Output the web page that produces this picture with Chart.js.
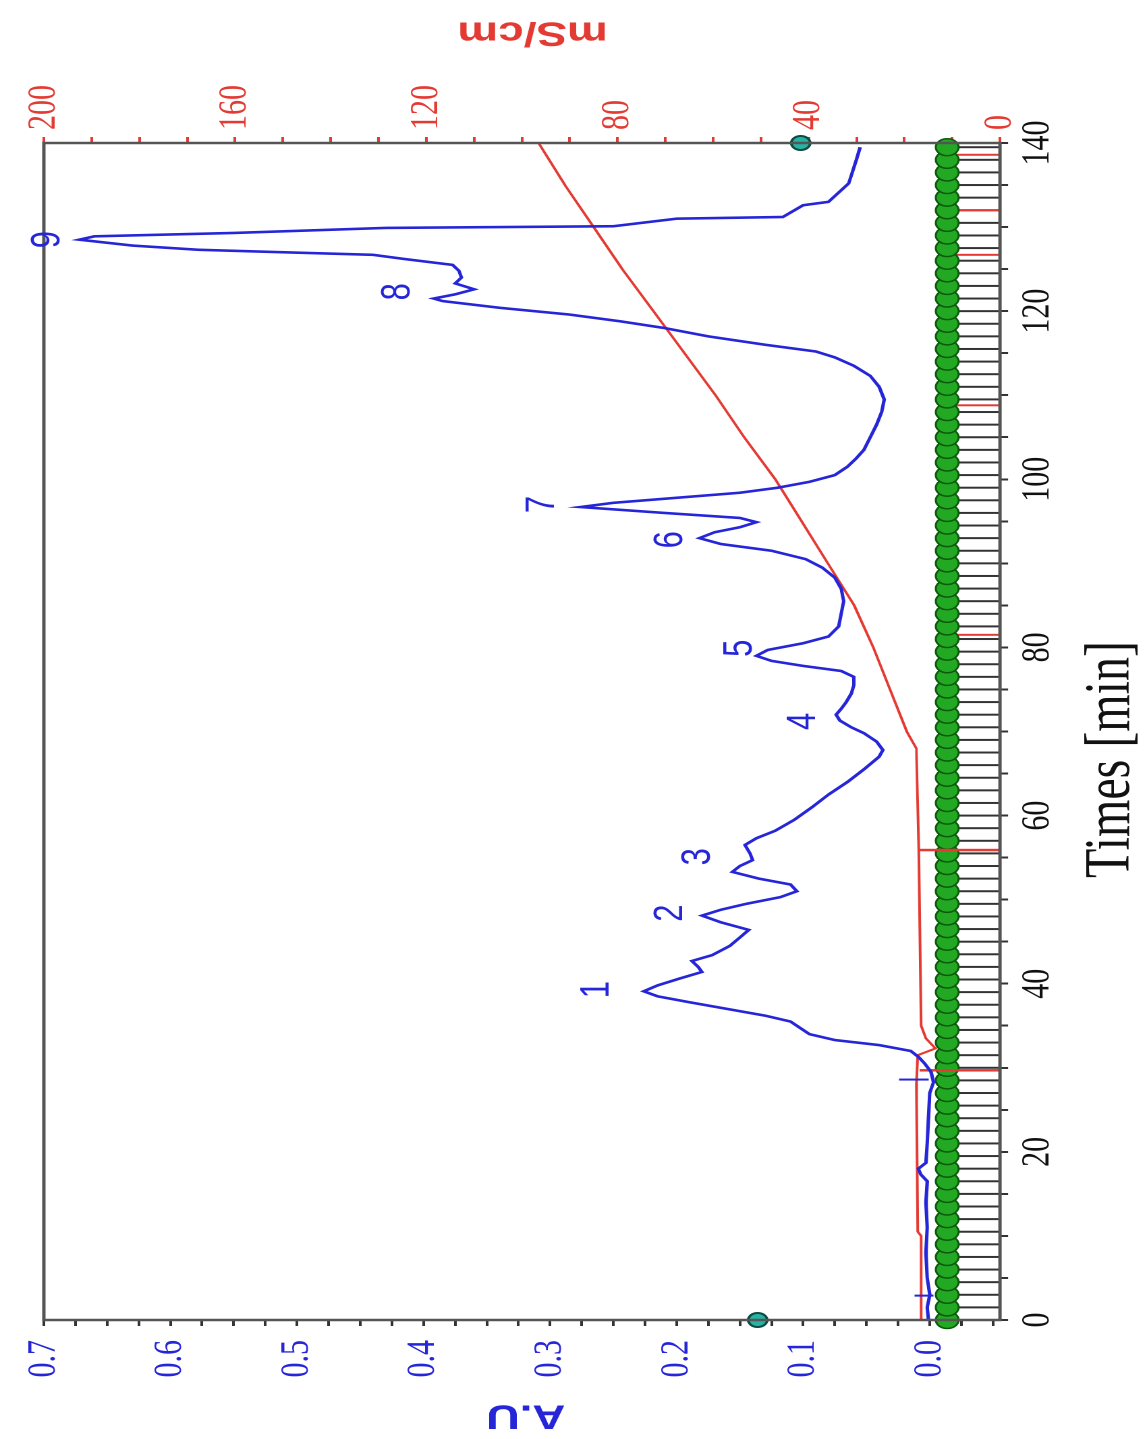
<!DOCTYPE html>
<html>
<head>
<meta charset="utf-8">
<title>Chromatogram</title>
<script src="https://cdn.jsdelivr.net/npm/chart.js@4.4.1/dist/chart.umd.min.js"></script>
<style>
  html, body { margin: 0; padding: 0; background: #fff; overflow: hidden; }
  /* the figure is drawn upright, then turned a quarter turn like the scan */
  #wrap {
    position: absolute; left: 0; top: 0;
    width: 1439px; height: 850px;
    transform-origin: 0 0;
    transform: translateY(1439px) rotate(-90deg) scaleY(1.349412);
  }
</style>
</head>
<body>
<div id="wrap"><canvas id="chart"></canvas></div>
<script>
// --- data ---
// absorbance (A.U) trace
const blueTime = [0, 1.5, 3, 5, 8, 11, 14, 16.5, 17.3, 18, 18.7, 21, 24, 27, 28.3, 29.5, 30.5, 31.3, 32, 32.7,
  33.3, 34, 35, 35.5, 36.2, 37, 37.8, 38.5, 39.1, 39.8, 40.6, 41.4, 42, 42.7, 43.4, 44.5, 45.5, 46.4, 47.3, 48.1,
  48.8, 49.5, 50.3, 51, 51.8, 52.5, 53.3, 54, 54.7, 55.5, 56.5, 57.3, 58.2, 59.5, 61, 62.5, 64, 65.5, 67, 67.8,
  68.8, 69.8, 70.5, 71.3, 72, 72.7, 73.5, 74.5, 75.5, 76.5, 77.2, 77.8, 78.4, 79, 79.7, 80.5, 81.3, 82.5, 84, 85.5,
  87, 88.3, 89.5, 90.5, 91.5, 92.3, 93, 93.7, 94.3, 94.9, 95.4, 96, 96.7, 97.2, 97.8, 98.4, 99, 99.7, 100.5, 101.5,
  102.5, 103.5, 105, 106.5, 108, 109.5, 111, 112.3, 113.5, 114.5, 115.2, 116, 117, 118, 118.8, 119.6, 120.4, 121.2,
  121.5, 122, 122.6, 123.3, 124, 124.8, 125.5, 126.2, 126.7, 127, 127.3, 127.8, 128.5, 128.9, 129.3, 129.9, 130.1,
  131, 131.2, 132.6, 133, 135.2, 138, 139.5];
const blueAU = [0.001, 0.002, 0.0, 0.002, 0.003, 0.002, 0.003, 0.002, 0.007, 0.009, 0.003, 0.002, 0.001, 0.0, -0.003, -0.001, 0.004, 0.009, 0.015, 0.04,
  0.075, 0.095, 0.105, 0.11, 0.13, 0.16, 0.19, 0.215, 0.226, 0.215, 0.198, 0.18, 0.183, 0.188, 0.172, 0.158, 0.15, 0.143, 0.165, 0.18,
  0.165, 0.145, 0.118, 0.105, 0.11, 0.135, 0.156, 0.15, 0.14, 0.142, 0.146, 0.137, 0.122, 0.107, 0.093, 0.08, 0.065, 0.052, 0.04, 0.037,
  0.042, 0.052, 0.062, 0.071, 0.074, 0.07, 0.066, 0.062, 0.06, 0.06, 0.07, 0.1, 0.125, 0.137, 0.128, 0.1, 0.08, 0.072, 0.07, 0.068,
  0.07, 0.075, 0.085, 0.098, 0.125, 0.165, 0.182, 0.17, 0.15, 0.137, 0.15, 0.21, 0.276, 0.25, 0.2, 0.15, 0.12, 0.095, 0.075, 0.065,
  0.058, 0.052, 0.047, 0.042, 0.038, 0.036, 0.04, 0.047, 0.06, 0.075, 0.09, 0.13, 0.175, 0.21, 0.245, 0.285, 0.34, 0.385,
  0.392, 0.375, 0.36, 0.375, 0.37, 0.372, 0.377, 0.415, 0.44, 0.51, 0.578, 0.63, 0.672, 0.66, 0.55, 0.43, 0.25,
  0.2, 0.116, 0.1, 0.08, 0.064, 0.058, 0.055];

// conductivity (mS/cm) trace
const redTime = [0, 10, 10.5, 28, 31.5, 32.3, 33.5, 35, 56, 68, 70, 75, 80, 85, 90, 95, 100, 105, 110, 115, 120, 125, 130, 135, 140];
const redMS = [16.5, 16.5, 17.2, 17.5, 17.2, 13.5, 15.5, 16.5, 17.0, 17.5, 19.5, 23, 26.5, 30.5, 36, 41.5, 47, 53.5, 59.5, 66, 72.5, 79, 85, 91, 96.5];

// fraction collector marks
const fractionTimes = [0, 1.5, 3, 4.5, 6, 7.5, 9, 10.5, 12, 13.5, 15, 16.5, 18, 19.5, 21, 22.5, 24, 25.5, 27, 28.5,
  30, 31.5, 33, 34.5, 36, 37.5, 39, 40.5, 42, 43.5, 45, 46.5, 48, 49.5, 51, 52.5, 54, 55.5, 57, 58.5, 60, 61.5, 63,
  64.5, 66, 67.5, 69, 70.5, 72, 73.5, 75, 76.5, 78, 79.5, 81, 82.5, 84, 85.5, 87, 88.5, 90, 91.5, 93, 94.5, 96, 97.5,
  99, 100.5, 102, 103.5, 105, 106.5, 108, 109.5, 111, 112.5, 114, 115.5, 117, 118.5, 120, 121.5, 123, 124.5, 126,
  127.5, 129, 130.5, 132, 133.5, 135, 136.5, 138, 139.5];
const redFractionTimes = [81.5, 108.8, 126.7, 132, 138.6];
const fractionLevel = -0.036;
const collectLevel = -0.0138;

// event marks
const redEventTimes = [29.7, 55.9];
const redEventLevel = -0.024;
const blueEventTimes = [2.9, 28.6];
const blueEventLevel = [0.0045, 0.0125];
const injectTimes = [0, 140];
const injectLevel = [0.136, 0.102];

// peak numbers
const peakNames = ['1', '2', '3', '4', '5', '6', '7', '8', '9'];
const peakTime = [39.3, 48.4, 55.1, 71.2, 79.9, 92.8, 97.0, 122.3, 128.5];
const peakLevel = [0.263, 0.205, 0.183, 0.10, 0.150, 0.205, 0.306, 0.42, 0.697];

// axes
const timeMajor = [0, 20, 40, 60, 80, 100, 120, 140];
const timeMinor = [5, 10, 15, 25, 30, 35, 45, 50, 55, 65, 70, 75, 85, 90, 95, 105, 110, 115, 125, 130, 135];
const auMajor = [0, 0.1, 0.2, 0.3, 0.4, 0.5, 0.6, 0.7];
const auMinor = [-0.05, -0.025, 0.025, 0.05, 0.075, 0.125, 0.15, 0.175, 0.225, 0.25, 0.275, 0.325, 0.35, 0.375,
  0.425, 0.45, 0.475, 0.525, 0.55, 0.575, 0.625, 0.65, 0.675];
const msMajor = [0, 40, 80, 120, 160, 200];
const msMinor = [10, 20, 30, 50, 60, 70, 90, 100, 110, 130, 140, 150, 170, 180, 190];

const S = 1147 / 850;           // stretch of the scan across the page
const SERIF = "'Liberation Serif', 'Times New Roman', serif";
const SANS = "'Liberation Sans', Arial, sans-serif";
const BLUE = '#2626d8';
const RED = '#e33b33';

const pts = (xs, ys) => xs.map((x, i) => ({ x: x, y: Array.isArray(ys) ? ys[i] : ys }));
const isMajor = (list, v) => list.some(m => Math.abs(m - v) < 1e-9);
const setTicks = (major, minor) => s => {
    s.ticks = major.concat(minor).sort((a, b) => a - b).map(v => ({ value: v }));
};

// box around the plot + peak numbers
const decorPlugin = {
    id: 'decor',
    afterDatasetsDraw(chart) {
        const { ctx, chartArea: a, scales } = chart;
        ctx.save();
        ctx.strokeStyle = '#555';
        ctx.lineWidth = 2.5;
        ctx.strokeRect(a.left, a.top, a.right - a.left, a.bottom - a.top);

        ctx.fillStyle = BLUE;
        ctx.font = '31px ' + SANS;
        ctx.textAlign = 'center';
        ctx.textBaseline = 'middle';
        peakNames.forEach((n, i) => {
            ctx.fillText(n, scales.x.getPixelForValue(peakTime[i]), scales.y.getPixelForValue(peakLevel[i]));
        });
        ctx.restore();
    },
    afterDraw(chart) {
        const { ctx, chartArea: a } = chart;
        const midX = (a.left + a.right) / 2;
        const midY = (a.top + a.bottom) / 2;
        ctx.save();
        ctx.textAlign = 'center';
        ctx.textBaseline = 'middle';

        // A.U
        ctx.save();
        ctx.fillStyle = BLUE;
        ctx.font = 'bold 34px ' + SANS;
        ctx.translate(a.left - 95, midY + 3);
        ctx.rotate(-Math.PI / 2);
        ctx.fillText('A.U', 0, 0);
        ctx.restore();

        // mS/cm
        ctx.save();
        ctx.fillStyle = RED;
        ctx.font = 'bold 34px ' + SANS;
        ctx.translate(a.right + 111, midY + 8);
        ctx.rotate(-Math.PI / 2);
        ctx.fillText('mS/cm', 0, 0);
        ctx.restore();

        // Times [min]
        ctx.fillStyle = '#111';
        ctx.font = '48px ' + SERIF;
        ctx.fillText('Times [min]', midX - 28, a.bottom + 83);
        ctx.restore();
    }
};

new Chart(document.getElementById('chart'), {
    type: 'scatter',
    data: {
        datasets: [
            {
                label: 'A.U',
                data: pts(blueTime, blueAU),
                yAxisID: 'y',
                showLine: true,
                borderColor: BLUE,
                borderWidth: 2.6,
                pointRadius: 0,
                order: 1
            },
            {
                label: 'mS/cm',
                data: pts(redTime, redMS),
                yAxisID: 'y2',
                showLine: true,
                borderColor: RED,
                borderWidth: 2,
                pointRadius: 0,
                order: 2
            },
            {
                label: 'blue events',
                data: pts(blueEventTimes, blueEventLevel),
                yAxisID: 'y',
                pointStyle: 'line',
                pointRotation: 90,
                pointRadius: [7, 11],
                pointBorderColor: BLUE,
                pointBorderWidth: 2,
                order: 0
            },
            {
                label: 'red events',
                data: pts(redEventTimes, redEventLevel),
                yAxisID: 'y',
                pointStyle: 'line',
                pointRotation: 90,
                pointRadius: 30,
                pointBorderColor: RED,
                pointBorderWidth: 2.5,
                order: 3
            },
            {
                label: 'collect',
                data: pts(fractionTimes, collectLevel),
                yAxisID: 'y',
                pointStyle: 'circle',
                pointRadius: 8.5,
                pointBackgroundColor: '#23a823',
                pointBorderColor: '#0b5a0b',
                pointBorderWidth: 1.5,
                clip: false,
                order: 4
            },
            {
                label: 'red fractions',
                data: pts(redFractionTimes, fractionLevel),
                yAxisID: 'y',
                pointStyle: 'line',
                pointRotation: 90,
                pointRadius: 19,
                pointBorderColor: RED,
                pointBorderWidth: 2,
                order: 4.5
            },
            {
                label: 'fractions',
                data: pts(fractionTimes, fractionLevel),
                yAxisID: 'y',
                pointStyle: 'line',
                pointRotation: 90,
                pointRadius: 19,
                pointBorderColor: '#333',
                pointBorderWidth: 2,
                order: 5
            },
            {
                label: 'inject',
                data: pts(injectTimes, injectLevel),
                yAxisID: 'y',
                pointStyle: 'circle',
                pointRadius: 7,
                pointBackgroundColor: '#27b3a3',
                pointBorderColor: '#0c4a42',
                pointBorderWidth: 2,
                clip: false,
                order: 0
            }
        ]
    },
    options: {
        responsive: true,
        maintainAspectRatio: false,
        devicePixelRatio: 2,
        animation: false,
        layout: { padding: { top: 27 / S, left: 0, right: 0, bottom: 0 } },
        plugins: {
            legend: { display: false },
            tooltip: { enabled: false }
        },
        scales: {
            x: {
                type: 'linear',
                position: 'bottom',
                min: 0,
                max: 140,
                afterFit: s => { s.height = 850 - 1000 / S; },
                afterBuildTicks: setTicks(timeMajor, timeMinor),
                ticks: {
                    autoSkip: false,
                    maxRotation: 0,
                    color: '#111',
                    padding: 4,
                    font: { family: SERIF, size: 30 },
                    callback: v => isMajor(timeMajor, v) ? String(v) : ''
                },
                grid: { drawOnChartArea: false, tickLength: 6, tickWidth: 2, tickColor: '#333' },
                border: { display: false }
            },
            y: {
                type: 'linear',
                position: 'left',
                min: -0.0555,
                max: 0.7,
                afterFit: s => { s.width = 119; },
                afterBuildTicks: setTicks(auMajor, auMinor),
                ticks: {
                    autoSkip: false,
                    color: BLUE,
                    padding: 14,
                    font: { family: SERIF, size: 30 },
                    callback: v => isMajor(auMajor, v) ? v.toFixed(1) : ''
                },
                grid: { drawOnChartArea: false, tickLength: 6, tickWidth: 2, tickColor: '#333' },
                border: { display: false }
            },
            y2: {
                type: 'linear',
                position: 'right',
                min: 0,
                max: 200,
                afterFit: s => { s.width = 143; },
                afterBuildTicks: setTicks(msMajor, msMinor),
                ticks: {
                    autoSkip: false,
                    color: RED,
                    padding: 7,
                    font: { family: SERIF, size: 30 },
                    callback: v => isMajor(msMajor, v) ? String(v) : ''
                },
                grid: { drawOnChartArea: false, tickLength: 6, tickWidth: 2, tickColor: RED },
                border: { display: false }
            }
        }
    },
    plugins: [decorPlugin]
});
</script>
</body>
</html>
